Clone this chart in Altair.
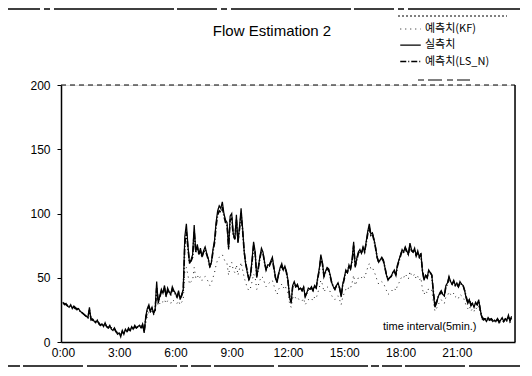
import altair as alt
import pandas as pd

# 5-minute intervals, 12 per hour, 24 hours
measured = [
    31, 29, 30, 28, 27, 29, 26, 28, 27, 25, 26, 24,
    23, 22, 21, 20, 19, 27, 17, 18, 16, 15, 17, 14,
    13, 14, 12, 15, 12, 11, 13, 10, 9, 11, 8, 6,
    7, 4, 9, 6, 10, 8, 11, 9, 12, 10, 13, 11,
    12, 13, 11, 14, 7, 20, 26, 29, 24, 27, 22, 25,
    47, 30, 36, 41, 38, 44, 35, 42, 39, 37, 43, 40,
    38, 35, 40, 33, 37, 41, 82, 92, 75, 61, 64, 68,
    91, 70, 76, 68, 73, 66, 71, 74, 69, 65, 58, 62,
    72, 79, 93, 102, 106, 104, 109, 100, 95, 93, 72, 98,
    100, 84, 80, 99, 77, 90, 104, 88, 70, 60, 54, 48,
    52, 64, 78, 70, 50, 58, 66, 73, 70, 62, 56, 60,
    60, 63, 66, 58, 50, 46, 53, 58, 61, 56, 59, 55,
    48, 35, 30, 44, 47, 43, 45, 41, 42, 40, 43, 35,
    38, 42, 41, 43, 40, 44, 42, 50, 57, 68, 62, 51,
    55, 58, 57, 52, 46, 43, 41, 44, 46, 42, 35, 45,
    50, 56, 54, 60, 57, 64, 78, 58, 65, 70, 72, 69,
    74, 70, 78, 86, 92, 84, 85, 80, 74, 66, 62, 64,
    66, 64, 58, 52, 48, 50, 51, 54, 56, 52, 60, 64,
    68, 72, 70, 74, 71, 68, 77, 72, 70, 73, 67, 71,
    66, 69, 55, 48, 52, 50, 56, 54, 52, 38, 27, 30,
    35, 38, 40, 37, 36, 44, 46, 51, 47, 45, 48, 44,
    46, 43, 47, 45, 44, 40, 34, 30, 33, 28, 30, 27,
    31, 29, 33, 25, 19, 17, 18, 16, 19, 17, 18, 16,
    17, 16, 18, 15, 17, 19, 16, 18, 17, 21, 16, 20,
]

pred_kf = [
    30, 30, 29, 29, 28, 28, 27, 27, 26, 26, 25, 24,
    23, 22, 21, 20, 20, 22, 19, 18, 17, 16, 16, 15,
    14, 14, 13, 13, 12, 12, 12, 11, 10, 10, 9, 8,
    7, 6, 7, 7, 8, 8, 9, 9, 10, 10, 11, 11,
    11, 12, 11, 12, 9, 15, 20, 23, 22, 24, 21, 23,
    33, 28, 30, 32, 31, 33, 30, 32, 31, 30, 33, 32,
    31, 30, 32, 29, 31, 33, 55, 58, 52, 45, 47, 48,
    58, 50, 52, 49, 51, 48, 50, 51, 49, 47, 44, 46,
    50, 54, 60, 64, 66, 67, 68, 65, 62, 61, 52, 60,
    62, 56, 54, 60, 52, 57, 62, 56, 50, 46, 42, 40,
    42, 47, 53, 50, 41, 44, 48, 51, 50, 46, 43, 45,
    46, 47, 48, 44, 40, 37, 41, 43, 45, 42, 44, 41,
    38, 30, 27, 34, 36, 34, 35, 33, 33, 32, 34, 29,
    31, 33, 33, 34, 32, 35, 34, 38, 42, 48, 45, 39,
    41, 43, 42, 39, 36, 34, 33, 35, 36, 33, 29, 35,
    38, 41, 40, 43, 42, 46, 52, 44, 47, 50, 51, 50,
    52, 50, 54, 58, 61, 57, 58, 55, 52, 48, 45, 46,
    47, 46, 43, 40, 37, 38, 39, 41, 42, 40, 44, 46,
    49, 51, 50, 53, 51, 49, 55, 52, 51, 53, 49, 51,
    48, 50, 41, 37, 40, 38, 42, 41, 40, 31, 24, 26,
    29, 31, 33, 31, 30, 35, 36, 39, 37, 36, 38, 35,
    36, 34, 37, 36, 35, 32, 28, 26, 28, 24, 26, 24,
    27, 25, 28, 22, 18, 16, 17, 15, 17, 16, 17, 15,
    16, 15, 17, 14, 16, 17, 15, 16, 16, 19, 15, 18,
]

pred_ls = [
    30, 30, 29, 28, 28, 28, 27, 27, 26, 26, 25, 24,
    23, 22, 21, 20, 19, 25, 18, 17, 16, 16, 16, 15,
    13, 14, 13, 14, 12, 11, 12, 11, 10, 10, 8, 7,
    7, 5, 8, 7, 9, 8, 10, 9, 11, 10, 12, 11,
    12, 13, 11, 13, 8, 18, 24, 27, 24, 26, 23, 25,
    42, 32, 35, 39, 38, 42, 36, 40, 38, 37, 41, 39,
    37, 35, 38, 34, 36, 40, 76, 86, 73, 62, 63, 66,
    86, 70, 74, 68, 71, 66, 70, 72, 68, 64, 59, 62,
    70, 77, 90, 99, 102, 101, 105, 98, 93, 91, 74, 95,
    96, 83, 80, 95, 78, 88, 99, 86, 70, 61, 55, 49,
    52, 62, 75, 69, 51, 57, 65, 71, 69, 62, 56, 59,
    59, 62, 64, 57, 50, 47, 53, 57, 59, 56, 58, 54,
    47, 36, 31, 43, 46, 43, 44, 41, 42, 40, 42, 36,
    38, 41, 41, 42, 40, 43, 42, 49, 56, 65, 61, 51,
    54, 57, 56, 51, 46, 43, 41, 44, 45, 42, 36, 44,
    49, 55, 54, 59, 57, 63, 75, 59, 64, 69, 71, 69,
    73, 70, 77, 84, 89, 83, 84, 79, 73, 66, 62, 64,
    65, 63, 58, 52, 49, 50, 51, 54, 55, 52, 59, 63,
    67, 71, 70, 73, 70, 68, 75, 71, 70, 72, 67, 70,
    66, 68, 56, 49, 52, 50, 55, 54, 52, 39, 29, 31,
    35, 37, 39, 37, 36, 43, 45, 50, 47, 45, 47, 44,
    45, 43, 46, 45, 44, 40, 35, 31, 33, 29, 30, 28,
    30, 29, 32, 25, 20, 18, 18, 17, 19, 17, 18, 17,
    17, 16, 18, 16, 17, 18, 16, 18, 17, 20, 17, 19,
]

series_names = ["예측치(KF)", "실측치", "예측치(LS_N)"]
tick_hours = [0, 3, 6, 9, 12, 15, 18, 21]
y_ticks = [0, 50, 100, 150, 200]

rows = []
for name, vals in zip(series_names, [pred_kf, measured, pred_ls]):
    for i, v in enumerate(vals):
        rows.append({"hour": i / 12.0, "value": v, "series": name})
df = pd.DataFrame(rows)

W, H = 454, 257

lines = alt.Chart(df).mark_line(color="black", interpolate="linear").encode(
    x=alt.X("hour:Q",
            scale=alt.Scale(domain=[-0.1, 24.1], nice=False, zero=False),
            axis=alt.Axis(values=tick_hours, labelExpr="datum.value + ':00'",
                          title=None, grid=False, ticks=False, labelPadding=5,
                          domainColor="black", domainWidth=1.5,
                          labelFont="Liberation Sans", labelFontSize=12,
                          labelColor="black")),
    y=alt.Y("value:Q",
            scale=alt.Scale(domain=[0, 200], nice=False),
            axis=alt.Axis(values=y_ticks, title=None, grid=False, tickSize=4,
                          tickColor="black", labelPadding=7,
                          domainColor="black", domainWidth=1.5,
                          labelFont="Liberation Sans", labelFontSize=12,
                          labelColor="black")),
    strokeDash=alt.StrokeDash("series:N",
        scale=alt.Scale(domain=series_names, range=[[1, 4], [1, 0], [6, 2, 1, 2]]),
        legend=alt.Legend(title=None, orient="none", legendX=338, legendY=-67,
                          symbolType="stroke", symbolSize=420,
                          symbolStrokeColor="black", symbolStrokeWidth=1.2,
                          labelFont="Noto Sans CJK KR", labelFontSize=11,
                          labelColor="black", rowPadding=0, padding=0,
                          labelOffset=3)),
    strokeWidth=alt.StrokeWidth("series:N",
        scale=alt.Scale(domain=series_names, range=[0.9, 1.6, 1.0]),
        legend=None),
    order=alt.Order("series:N", sort="descending"),
)

# plot-area frame: dashed top, solid right
top_border = alt.Chart(pd.DataFrame({"a": [0]})).mark_rule(
    color="black", strokeDash=[5, 4], strokeWidth=1
).encode(x=alt.value(0), x2=alt.value(W), y=alt.value(0))

right_border = alt.Chart(pd.DataFrame({"a": [0]})).mark_rule(
    color="black", strokeWidth=1.5
).encode(x=alt.value(W), y=alt.value(0), y2=alt.value(H))

title = alt.Chart(pd.DataFrame({"t": ["Flow Estimation 2"]})).mark_text(
    font="Liberation Sans", fontSize=15, color="black",
    align="center", baseline="middle"
).encode(text="t:N", x=alt.value(211), y=alt.value(-54))

note = alt.Chart(pd.DataFrame({"t": ["time interval(5min.)"]})).mark_text(
    font="Liberation Sans", fontSize=11, color="black",
    align="left", baseline="middle"
).encode(text="t:N", x=alt.value(322), y=alt.value(242))

# scan frame lines
frame_top = alt.Chart(pd.DataFrame({"a": [0]})).mark_rule(
    color="black", strokeWidth=1.5, strokeDash=[40, 4, 6, 4, 120, 3]
).encode(x=alt.value(-61), x2=alt.value(460), y=alt.value(-76))

legend_top = alt.Chart(pd.DataFrame({"a": [0]})).mark_rule(
    color="black", strokeWidth=1, strokeDash=[2, 2]
).encode(x=alt.value(337), x2=alt.value(446), y=alt.value(-69))

legend_bottom = alt.Chart(pd.DataFrame({"a": [0]})).mark_rule(
    color="black", strokeWidth=1, strokeDash=[6, 4, 14, 5]
).encode(x=alt.value(357), x2=alt.value(409), y=alt.value(-5))

frame_bottom = alt.Chart(pd.DataFrame({"a": [0]})).mark_rule(
    color="black", strokeWidth=1.5, strokeDash=[20, 3, 60, 4, 90, 3, 8, 3]
).encode(x=alt.value(-61), x2=alt.value(460), y=alt.value(281))

chart = alt.layer(
    lines, top_border, right_border, title, note,
    frame_top, legend_top, legend_bottom, frame_bottom
).properties(
    width=W, height=H,
    autosize=alt.AutoSizeParams(type="none"),
    padding={"left": 53, "top": 77, "right": 5, "bottom": 25},
).configure_view(stroke=None).configure(background="white")

chart.save("out.html", embed_options={"renderer": "svg", "actions": False})
